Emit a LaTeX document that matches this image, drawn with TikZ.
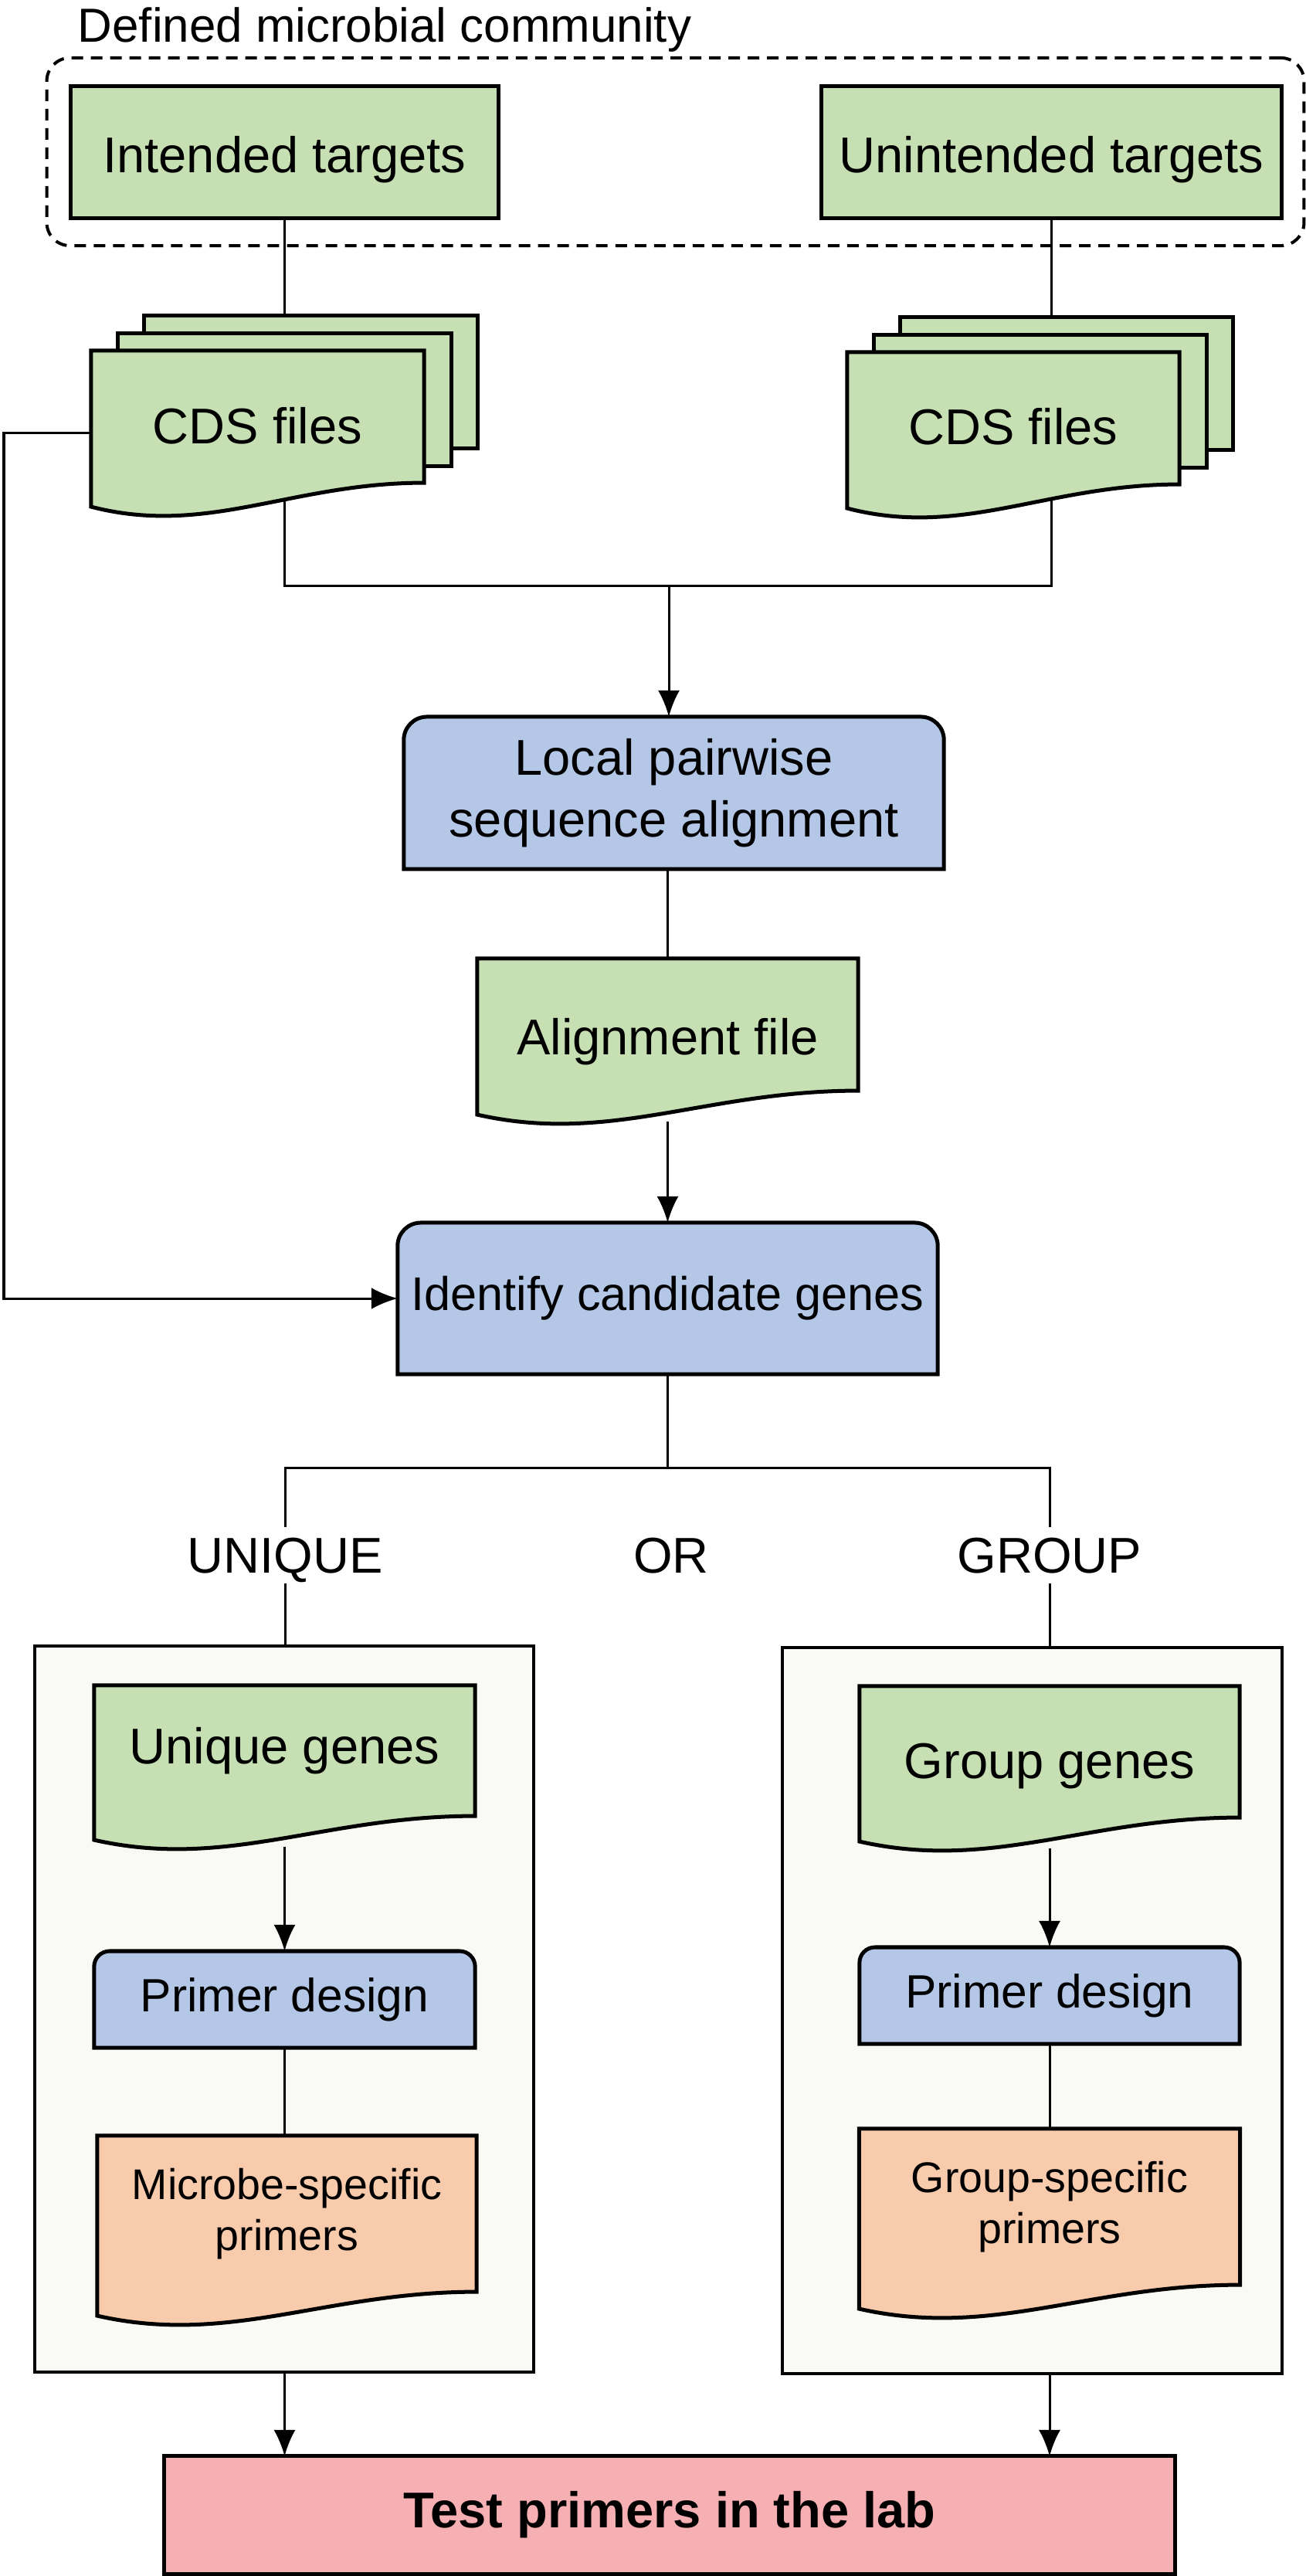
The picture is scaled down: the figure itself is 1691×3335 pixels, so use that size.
\documentclass[tikz,border=0pt]{standalone}
\usepackage{fontspec}
\setmainfont{Liberation Sans}
\usetikzlibrary{arrows.meta,calc}

\pgfdeclarelayer{frame}
\pgfdeclarelayer{lines}
\pgfdeclarelayer{shapes}
\pgfsetlayers{frame,lines,shapes,main}

\definecolor{filegreen}{HTML}{C6E0B4}
\definecolor{procblue}{HTML}{B4C7E7}
\definecolor{primerorange}{HTML}{F8CBAD}
\definecolor{labpink}{HTML}{F6AFB2}
\definecolor{panelgray}{HTML}{F9FAF5}

\newcommand{\boxfont}{\fontsize{18.5}{22.8}\selectfont}
\newcommand{\titlefont}{\fontsize{17.6}{21}\selectfont}
\newcommand{\identfont}{\fontsize{17.4}{21}\selectfont}
\newcommand{\primerfont}{\fontsize{17.2}{21}\selectfont}
\newcommand{\smallfont}{\fontsize{15.8}{18.9}\selectfont}

% document sheet with a wavy lower edge, drawn under node #1
\newcommand{\docsheet}[2]{%
  \begin{pgfonlayer}{shapes}
  \filldraw[fill=#2,line width=0.05cm] (#1.south west) -- (#1.north west) -- (#1.north east) -- (#1.south east)
    .. controls ($(#1.south west)!0.6!(#1.south east)$) and ($(#1.south west)!0.35!(#1.south east)+(0,70)$) .. ($(#1.south west)+(0,31)$) -- cycle;
  \end{pgfonlayer}}
% process box, top corners rounded
\newcommand{\procsheet}[2]{%
  \begin{pgfonlayer}{shapes}
  \filldraw[fill=procblue,line width=0.05cm] (#1.south west) [rounded corners=#2] -- (#1.north west) -- (#1.north east) [sharp corners] -- (#1.south east) -- cycle;
  \end{pgfonlayer}}
% two sheets behind a stack of files
\newcommand{\backsheets}[1]{%
  \begin{pgfonlayer}{shapes}
  \foreach \dx/\dy in {69/-45,35/-22}
    \filldraw[fill=filegreen,line width=0.05cm] ($(#1.north west)+(\dx,\dy)$) rectangle ($(#1.south east)+(\dx,\dy)$);
  \end{pgfonlayer}}

\begin{document}
\begin{tikzpicture}[x=0.01cm,y=-0.01cm]
\tikzstyle{txt}=[inner sep=0,outer sep=0,align=center,font=\boxfont]
\tikzstyle{target}=[txt,draw,fill=filegreen,line width=0.05cm,minimum height=1.70cm]
\tikzstyle{panel}=[draw,fill=panelgray,line width=0.04cm,inner sep=0,outer sep=0,minimum width=6.46cm,minimum height=9.40cm]
\tikzstyle{choice}=[font=\boxfont,text height=0.47cm,text depth=0cm,inner sep=0.13cm,outer sep=0]
\tikzstyle{link}=[line width=0.03cm]
\tikzstyle{flow}=[link,-{Latex[length=3.4mm,width=2.8mm]}]
\useasboundingbox (0,0) rectangle (1691,3335);

\node[anchor=base west,inner sep=0,font=\titlefont] (title) at (100,54) {Defined microbial community};
\begin{pgfonlayer}{frame}
\node[draw,dashed,dash pattern=on 0.15cm off 0.1cm,line width=0.04cm,rounded corners=0.3cm,minimum width=16.27cm,minimum height=2.43cm] (community) at (874.5,196.5) {};
\end{pgfonlayer}
\node[target,minimum width=5.53cm,text height=0.52cm,text depth=0cm] (intended) at (368.5,197) {Intended targets};
\node[target,minimum width=5.95cm,text height=0.52cm,text depth=0cm] (unintended) at (1361.5,197) {Unintended targets};

\node[txt,minimum width=4.31cm,minimum height=1.71cm,text height=0.69cm,text depth=0cm] (cdsL) at (333.5,539.5) {CDS files};
\node[txt,minimum width=4.30cm,minimum height=1.71cm,text height=0.67cm,text depth=0cm] (cdsR) at (1312,541.5) {CDS files};
\backsheets{cdsL}
\docsheet{cdsL}{filegreen}
\backsheets{cdsR}
\docsheet{cdsR}{filegreen}
\coordinate (merge) at (866,758);

\node[txt,minimum width=6.99cm,minimum height=1.97cm] (local) at (872.5,1026.5) {Local pairwise\\sequence alignment};
\procsheet{local}{0.3cm}
\node[txt,minimum width=4.93cm,minimum height=1.71cm,text height=0.77cm,text depth=0cm] (align) at (864.5,1326.5) {Alignment file};
\docsheet{align}{filegreen}
\node[txt,font=\identfont,minimum width=6.99cm,minimum height=1.96cm] (identify) at (864.5,1681) {Identify candidate genes};
\procsheet{identify}{0.3cm}
\coordinate (rail) at (5,1681);
\coordinate (branch) at (864.5,1900);

\node[choice] (uniqueLabel) at (369,2013) {UNIQUE};
\node[choice] (orLabel) at (869,2013) {OR};
\node[choice] (groupLabel) at (1359,2013) {GROUP};

\begin{pgfonlayer}{frame}
\node[panel] (uniqueBox) at (368,2601) {};
\node[panel] (groupBox) at (1336.5,2603) {};
\end{pgfonlayer}
\node[txt,minimum width=4.93cm,minimum height=1.69cm] (uniqueGenes) at (368.5,2266.5) {Unique genes};
\docsheet{uniqueGenes}{filegreen}
\node[txt,font=\primerfont,minimum width=4.93cm,minimum height=1.25cm] (primerL) at (368.5,2588.5) {Primer design};
\procsheet{primerL}{0.2cm}
\node[txt,font=\smallfont,minimum width=4.91cm,minimum height=2.02cm] (microbeP) at (371.5,2866) {Microbe-specific\\primers};
\docsheet{microbeP}{primerorange}

\node[txt,minimum width=4.92cm,minimum height=1.70cm,text height=0.69cm,text depth=0cm] (groupGenes) at (1359,2268) {Group genes};
\docsheet{groupGenes}{filegreen}
\node[txt,font=\primerfont,minimum width=4.92cm,minimum height=1.25cm] (primerR) at (1359,2583.5) {Primer design};
\procsheet{primerR}{0.2cm}
\node[txt,font=\smallfont,minimum width=4.93cm,minimum height=2.02cm] (groupP) at (1359,2857) {Group-specific\\primers};
\docsheet{groupP}{primerorange}

\node[txt,draw,fill=labpink,line width=0.05cm,font=\boxfont\bfseries,minimum width=13.08cm,minimum height=1.52cm] (test) at (867,3256) {Test primers in the lab};

\begin{pgfonlayer}{lines}
\draw[link] (intended.south) -- (intended.south |- cdsL.center);
\draw[link] (unintended.south) -- (unintended.south |- cdsR.center);
\draw[link] (intended.south |- cdsL.center) -- (intended.south |- merge) -- (unintended.south |- merge) -- (unintended.south |- cdsR.center);
\draw[flow] (merge) -- (merge |- local.north);
\draw[flow] ([yshift=-2.1mm]cdsL.west) -| (rail) -- (identify.west);
\draw[link] (align.north |- local.south) -- (align.north);
\draw[flow] ([yshift=-4mm]align.south) -- (identify.north);
\draw[link] (identify.south) -- (branch);
\draw[link] (uniqueLabel.north) |- (branch) -| (groupLabel.north);
\draw[link] (uniqueLabel.south) -- (uniqueLabel.south |- uniqueBox.north);
\draw[link] (groupLabel.south) -- (groupLabel.south |- groupBox.north);
\draw[flow] ([yshift=-4mm]uniqueGenes.south) -- (primerL.north);
\draw[flow] ([yshift=-4mm]groupGenes.south) -- (primerR.north);
\draw[link] (primerL.south) -- (primerL.south |- microbeP.north);
\draw[link] (primerR.south) -- (groupP.north);
\draw[flow] (primerL.south |- uniqueBox.south) -- (primerL.south |- test.north);
\draw[flow] (primerR.south |- groupBox.south) -- (primerR.south |- test.north);
\end{pgfonlayer}
\end{tikzpicture}
\end{document}
